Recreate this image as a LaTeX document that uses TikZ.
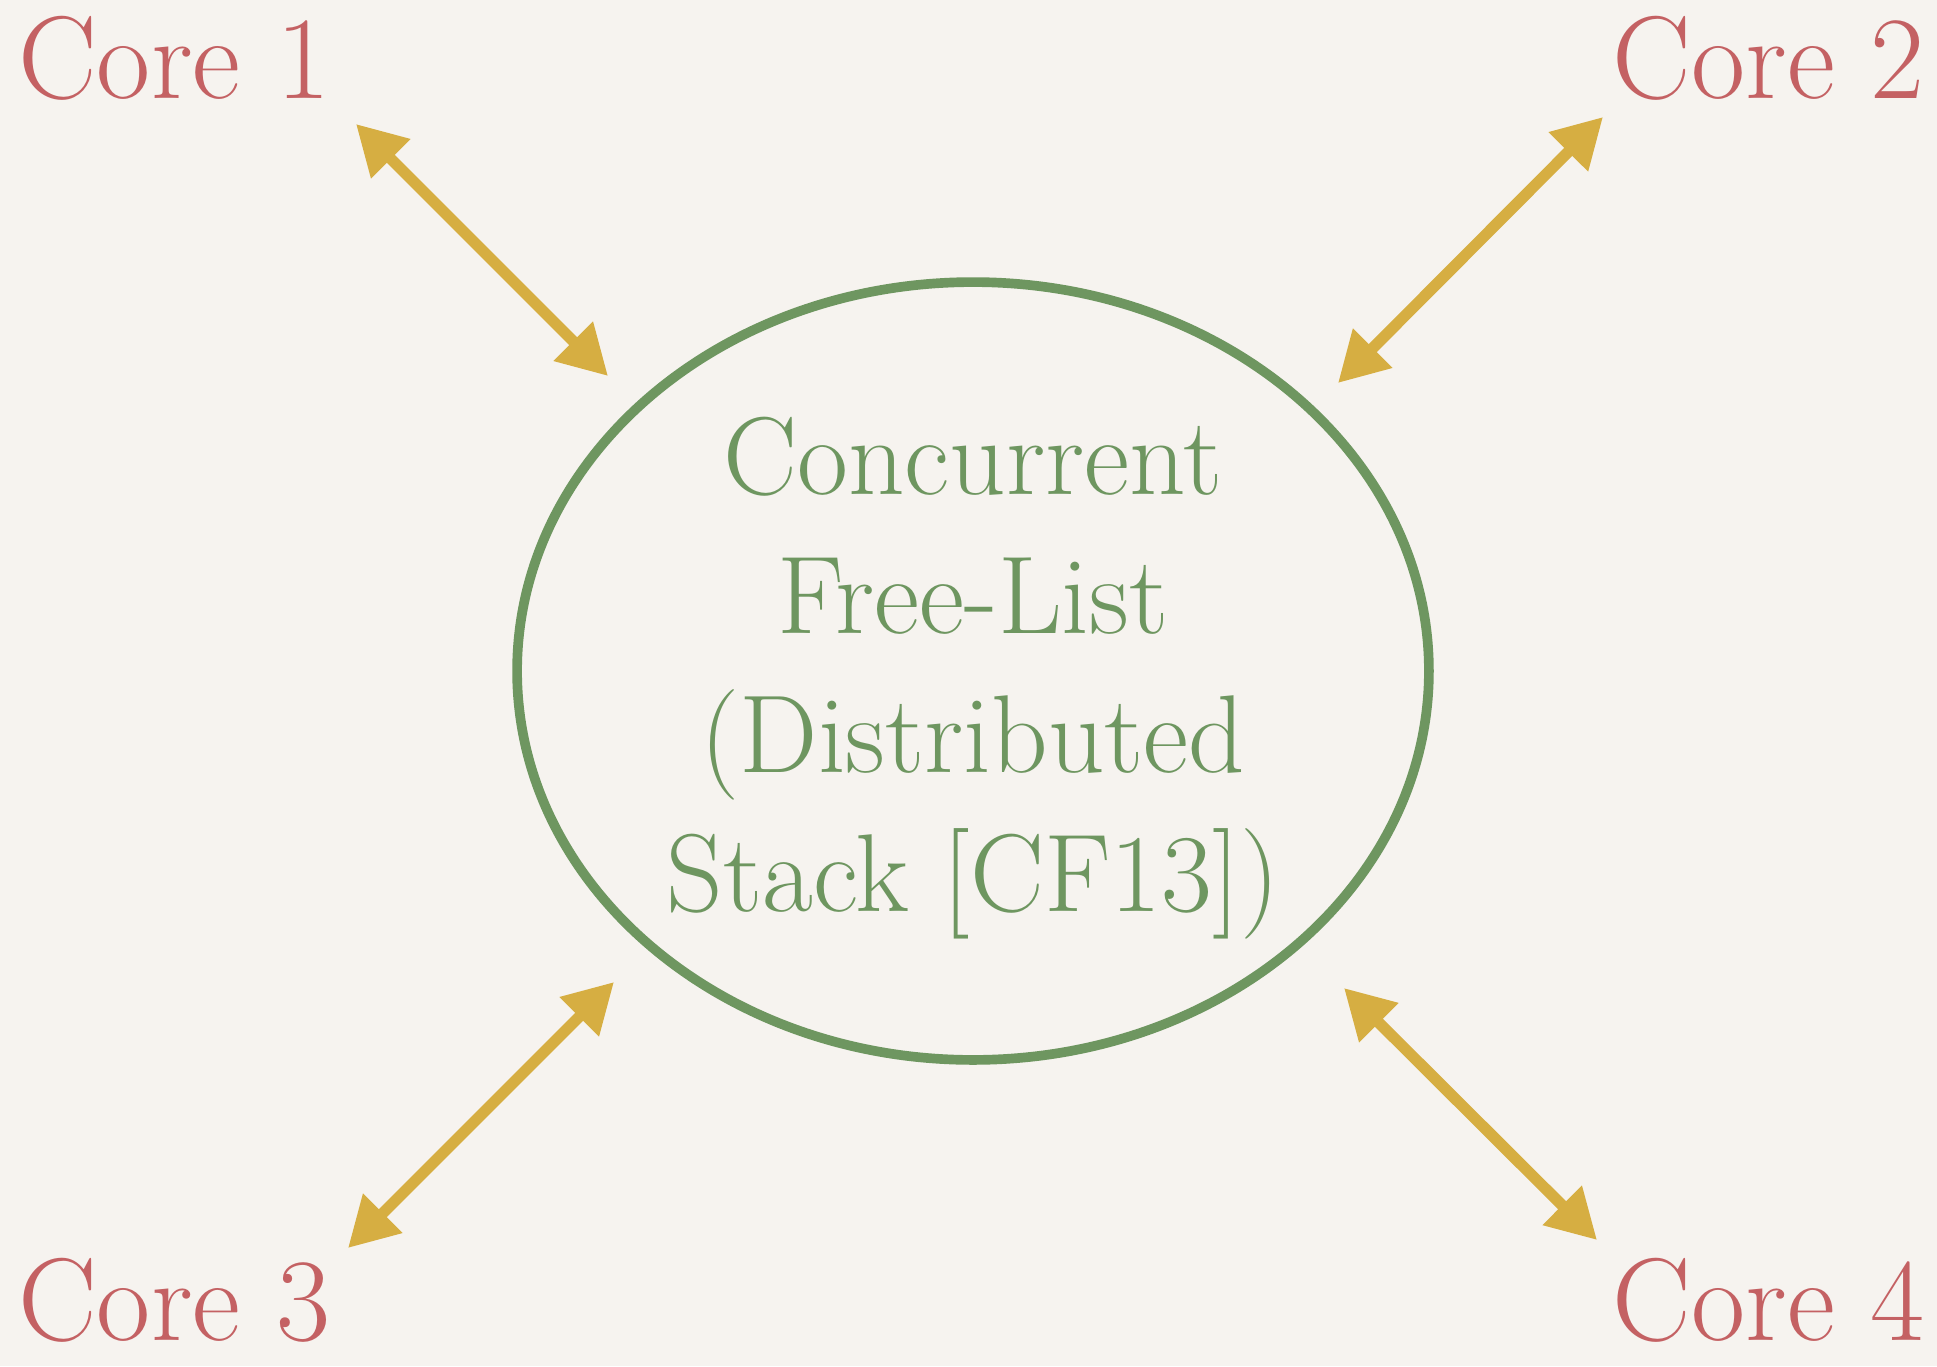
\documentclass[tikz,border=0pt]{standalone}
\usepackage{tikz}
\usetikzlibrary{arrows.meta, shapes.geometric}

\definecolor{paper}{HTML}{F6F3EF}
\definecolor{corered}{HTML}{C46163}
\definecolor{listgreen}{HTML}{6E9660}
\definecolor{linkgold}{HTML}{D6AE42}

\begin{document}
\begin{tikzpicture}[
  x=0.02cm, y=-0.02cm,
  core/.style={text=corered, inner sep=0pt, font=\fontsize{67}{72}\selectfont},
  pool/.style={ellipse, draw=listgreen, line width=5.5pt,
    minimum width=18.24cm, minimum height=15.56cm},
  label/.style={text=listgreen, align=center, font=\fontsize{63}{79}\selectfont},
  link/.style={{Triangle[length=28pt, width=30pt]}-{Triangle[length=28pt, width=30pt]},
    line width=6.4pt, draw=linkgold, fill=linkgold}
]
\fill[paper] (0,0) rectangle (1937,1366);

\node[core, anchor=base west] (c1) at (18,98) {Core 1};
\node[core, anchor=base east] (c2) at (1925,98) {Core 2};
\node[core, anchor=base west] (c3) at (18,1340) {Core 3};
\node[core, anchor=base east] (c4) at (1925,1340) {Core 4};

\node[pool] (fl) at (973,671) {};
\node[label] (fltext) at (973,678) {Concurrent\\Free-List\\(Distributed\\Stack [CF13])};

\coordinate (l1a) at (356,124);
\coordinate (l1b) at (608,376);
\coordinate (l2a) at (1603,117);
\coordinate (l2b) at (1338,383);
\coordinate (l3a) at (614,982);
\coordinate (l3b) at (348,1248);
\coordinate (l4a) at (1344,988);
\coordinate (l4b) at (1597,1240);

\draw[link] (l1a) -- (l1b);
\draw[link] (l2a) -- (l2b);
\draw[link] (l3a) -- (l3b);
\draw[link] (l4a) -- (l4b);
\end{tikzpicture}
\end{document}
